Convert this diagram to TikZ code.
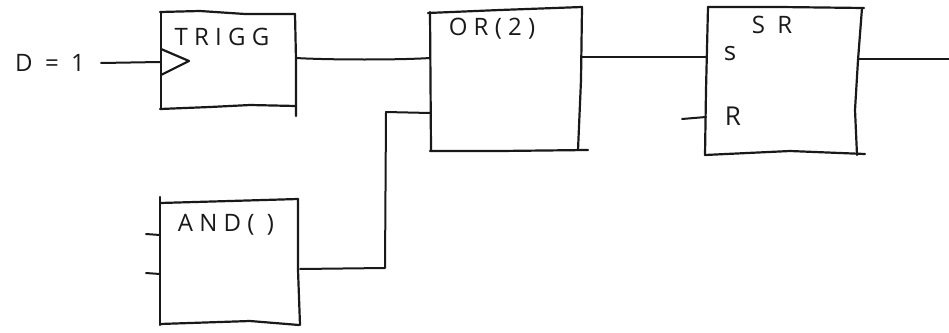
\documentclass[tikz,border=0pt]{standalone}
\usepackage{fontspec}
\setmainfont{Open Sans}
\newfontfamily\handwide[LetterSpace=26]{Open Sans}
\tikzset{
  x=1pt,y=-1pt,
  ink/.style={draw=black!90,line width=2.2pt,line cap=round,line join=round},
  wire/.style={ink,line width=2pt},
  hand/.style={inner sep=0pt,text=black!90,font=\fontsize{26}{26}\selectfont},
  handw/.style={inner sep=0pt,text=black!90,font=\handwide\fontsize{24}{24}\selectfont}
}
\begin{document}
\begin{tikzpicture}
\useasboundingbox (0,0) rectangle (949,332);
% ports
\coordinate (dend) at (101,63);
\coordinate (trigin) at (160,62);
\coordinate (trigout) at (296,58);
\coordinate (orinA) at (430,58);
\coordinate (orinB) at (430,113);
\coordinate (orout) at (581,57);
\coordinate (srinS) at (706,57);
\coordinate (srinR) at (706,117);
\coordinate (rend) at (682,119);
\coordinate (srout) at (858,59);
\coordinate (outend) at (949,59);
\coordinate (andout) at (300,269);
\coordinate (elbowA) at (385,268);
\coordinate (elbowB) at (386,112);
\coordinate (andinA) at (160,235);
\coordinate (andinB) at (160,274);
\coordinate (aendA) at (146,234);
\coordinate (aendB) at (146,273);
% TRIGG box
\draw[ink] (160,12) -- (200,11) -- (245,14) -- (295,14);
\draw[ink] (161,12) -- (161,109);
\draw[ink] (160,109) -- (210,107) -- (250,105) -- (296,106);
\draw[ink] (295,14) -- (296,60) -- (296,116);
\draw[ink] (161,49) -- (189,61) -- (161,75);
\node[handw] (trigg) at (222,37) {TRIGG};
% OR box
\draw[ink] (428,13) -- (500,10) -- (582,7);
\draw[ink] (430,12) -- (431,151);
\draw[ink] (430,151) -- (500,151) -- (588,150);
\draw[ink] (582,7) -- (581,80) -- (578,150);
\node[handw] (orlab) at (492,29) {OR(2)};
% SR box
\draw[ink] (708,7) -- (780,7) -- (864,8);
\draw[ink] (708,7) -- (706,90) -- (705,155);
\draw[ink] (705,155) -- (790,151) -- (865,154);
\draw[ink] (862,8) -- (858,60) -- (855,110) -- (857,155);
\node[handw] (srlab) at (772,25) {S R};
\node[hand] (slab) at (730,54) {s};
\node[hand] (rlab) at (733,116) {R};
% AND box
\draw[ink] (160,197) -- (160,325);
\draw[ink] (160,203) -- (230,201) -- (298,199);
\draw[ink] (160,324) -- (250,321) -- (299,325);
\draw[ink] (298,199) -- (298,270) -- (300,325);
\node[handw] (andlab) at (226,225) {AND( )};
% D=1
\node[handw] (dlab) at (50,63) {D = 1};
% connectors
\draw[wire] (dend) -- (trigin);
\draw[wire] (trigout) .. controls (330,60) and (400,60) .. (orinA);
\draw[wire] (orinB) -- (elbowB) -- (elbowA) -- (andout);
\draw[wire] (orout) -- (srinS);
\draw[wire] (srout) -- (outend);
\draw[wire] (rend) -- (srinR);
\draw[wire] (aendA) -- (andinA);
\draw[wire] (aendB) -- (andinB);
\end{tikzpicture}
\end{document}
